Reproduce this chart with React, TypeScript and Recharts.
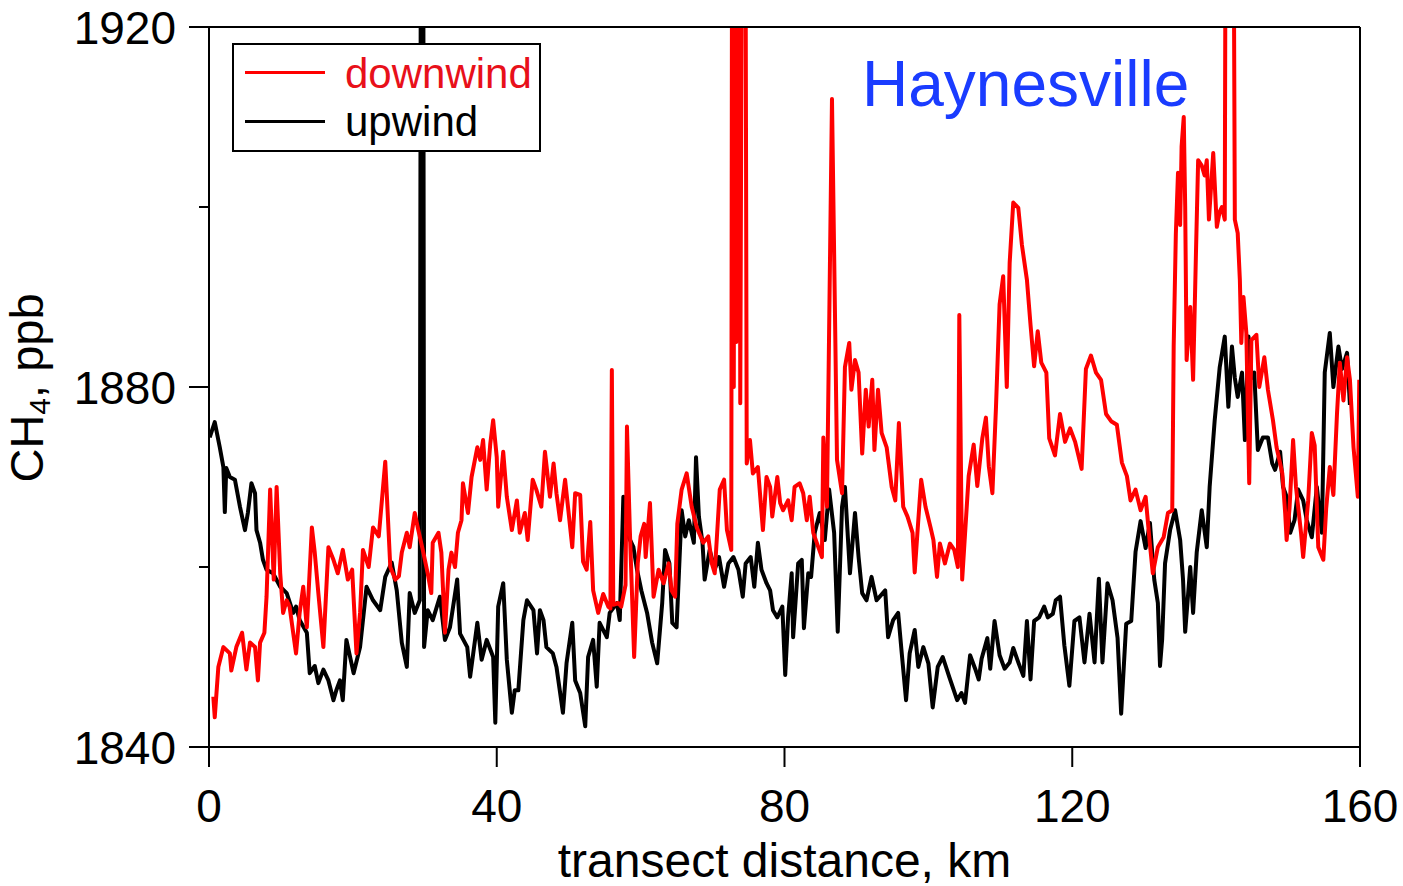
import React from 'react';
import { LineChart, Line, XAxis, YAxis, ReferenceLine, Legend } from 'recharts';

// ---- data ----
const upwindKm = [
  0.1, 0.8, 1.5, 2.0, 2.2, 2.4, 2.9, 3.6, 4.3, 5.0, 5.4, 5.9, 6.4, 6.6, 7.1, 7.5, 8.0, 8.9, 9.9, 10.8,
  11.7, 12.1, 12.6, 13.6, 14.0, 14.7, 15.2, 15.9, 16.6, 17.3, 17.7, 18.2, 18.6, 19.1, 20.1, 21.0, 21.9, 22.8, 23.8, 24.5,
  25.4, 26.1, 26.8, 27.5, 27.9, 28.6, 29.3, 29.5, 29.75, 29.9, 30.4, 31.1, 32.1, 32.8, 33.5, 34.5, 34.9, 35.9, 36.3, 37.3,
  37.9, 38.6, 39.5, 39.8, 40.2, 40.9, 41.4, 42.1, 42.5, 43.0, 43.7, 44.2, 45.1, 45.6, 46.0, 46.5, 46.9, 47.8, 48.3, 49.2,
  49.7, 50.5, 50.9, 51.6, 52.3, 52.7, 53.4, 53.9, 54.3, 55.3, 55.7, 56.7, 57.1, 57.6, 58.3, 59.0, 59.5, 60.1, 60.9, 61.6,
  62.3, 63.0, 63.4, 64.0, 64.4, 65.0, 65.3, 65.7, 66.2, 66.7, 67.4, 67.7, 68.1, 68.6, 68.9, 69.6, 70.3, 70.9, 71.6, 72.2,
  72.9, 73.6, 74.2, 74.6, 75.3, 75.8, 76.3, 76.8, 77.5, 78.0, 78.4, 79.0, 79.7, 80.1, 80.5, 81.0, 81.2, 81.9, 82.4, 82.7,
  83.3, 83.7, 84.2, 84.9, 85.6, 86.2, 86.9, 87.4, 88.0, 88.4, 89.1, 89.8, 90.3, 90.8, 91.4, 92.1, 92.8, 94.0, 94.4, 95.1,
  95.8, 96.3, 96.9, 97.4, 98.1, 98.6, 99.3, 100.0, 100.6, 101.3, 102.0, 102.9, 104.0, 104.6, 105.1, 105.8, 106.5, 107.0, 107.4, 108.2,
  108.6, 109.2, 109.9, 110.6, 111.3, 111.8, 112.5, 113.2, 113.7, 114.2, 114.7, 115.4, 116.1, 116.6, 117.3, 117.7, 118.3, 118.9, 119.6, 120.3,
  121.0, 121.7, 122.4, 123.1, 123.7, 124.2, 124.9, 125.6, 126.3, 126.8, 127.5, 128.2, 128.8, 129.5, 130.2, 130.8, 131.4, 131.9, 132.2, 132.5,
  132.9, 133.6, 134.3, 135.0, 135.4, 135.7, 136.4, 136.8, 137.3, 138.0, 138.7, 139.1, 139.8, 140.5, 141.2, 141.7, 142.2, 142.6, 143.0, 143.6,
  144.0, 144.5, 144.9, 145.3, 145.8, 146.5, 147.2, 147.8, 148.2, 148.9, 149.3, 149.8, 150.3, 150.9, 151.4, 152.1, 152.6, 153.3, 154.0, 154.7,
  155.1, 155.8, 156.3, 157.0, 157.5, 158.2, 158.6,
];
const upwindPpb = [
  1874.4, 1876.1, 1873.3, 1871.1, 1866.1, 1871.0, 1870.0, 1869.7, 1866.7, 1864.1, 1866.0, 1869.3, 1868.2, 1864.1, 1862.7, 1860.8, 1859.7, 1859.3, 1857.8, 1857.1,
  1854.9, 1855.6, 1854.1, 1852.7, 1848.2, 1849.0, 1847.1, 1848.6, 1847.4, 1845.2, 1846.3, 1847.4, 1845.2, 1851.9, 1848.2, 1851.1, 1857.8, 1856.3, 1855.2, 1858.9,
  1860.5, 1857.4, 1851.6, 1848.9, 1857.1, 1854.9, 1856.3, 1960, 1960, 1851.1, 1855.2, 1854.1, 1856.7, 1851.9, 1853.3, 1858.6, 1852.6, 1851.1, 1847.8, 1853.8,
  1849.7, 1851.9, 1850.0, 1842.7, 1855.6, 1858.2, 1849.7, 1843.8, 1846.3, 1846.3, 1854.1, 1856.3, 1855.2, 1850.4, 1855.2, 1854.1, 1851.1, 1850.4, 1848.9, 1843.8,
  1849.3, 1853.8, 1847.4, 1846.0, 1842.3, 1850.0, 1851.9, 1846.7, 1853.8, 1852.2, 1854.9, 1856.0, 1854.1, 1867.8, 1863.4, 1862.2, 1859.7, 1857.4, 1854.9, 1851.6,
  1849.3, 1856.0, 1861.9, 1860.4, 1853.8, 1853.3, 1858.9, 1866.3, 1863.4, 1865.2, 1862.7, 1872.2, 1865.6, 1862.7, 1858.6, 1861.9, 1859.7, 1861.1, 1857.8, 1860.4,
  1861.1, 1859.7, 1856.7, 1860.4, 1861.1, 1857.8, 1862.7, 1859.7, 1858.2, 1857.4, 1855.2, 1854.4, 1855.6, 1848.0, 1854.4, 1859.3, 1852.2, 1860.4, 1860.8, 1853.2,
  1859.3, 1858.9, 1863.8, 1866.0, 1863.0, 1868.6, 1863.8, 1852.8, 1866.7, 1868.9, 1859.3, 1866.0, 1861.1, 1857.1, 1856.3, 1858.9, 1856.3, 1857.4, 1852.2, 1854.1,
  1854.9, 1850.4, 1845.2, 1850.4, 1853.0, 1848.9, 1851.1, 1849.3, 1844.4, 1848.9, 1850.0, 1847.8, 1845.2, 1846.0, 1844.9, 1850.2, 1848.7, 1847.5, 1849.8, 1852.1,
  1848.7, 1854.0, 1850.2, 1848.7, 1849.4, 1851.0, 1849.4, 1847.9, 1854.0, 1847.5, 1854.0, 1854.4, 1855.6, 1854.4, 1854.8, 1856.3, 1856.7, 1851.3, 1846.8, 1854.0,
  1854.4, 1849.4, 1854.8, 1849.4, 1858.7, 1849.4, 1858.2, 1856.3, 1852.1, 1843.7, 1853.7, 1854.0, 1861.7, 1865.1, 1862.1, 1864.9, 1858.6, 1856.0, 1849.0, 1852.0,
  1860.4, 1864.1, 1866.3, 1863.0, 1858.6, 1852.8, 1860.0, 1854.9, 1861.6, 1866.3, 1862.2, 1868.9, 1876.3, 1882.2, 1885.6, 1877.8, 1884.5, 1881.0, 1878.9, 1881.6,
  1874.1, 1885.6, 1881.0, 1881.6, 1873.0, 1874.4, 1874.4, 1871.5, 1870.8, 1872.8, 1868.9, 1867.8, 1863.8, 1865.2, 1868.6, 1867.4, 1865.2, 1863.3, 1868.9, 1863.8,
  1881.6, 1886.0, 1880.0, 1884.5, 1882.0, 1883.8, 1878.0,
];

const downwindKm = [
  0.6, 0.8, 1.3, 2.0, 2.9, 3.1, 3.8, 4.6, 5.2, 5.7, 6.4, 6.8, 7.1, 7.7, 8.0, 8.5, 9.0, 9.4, 9.9, 10.3,
  10.8, 11.2, 11.7, 12.1, 12.6, 13.1, 13.6, 14.3, 14.7, 15.2, 15.9, 16.6, 17.3, 17.9, 18.6, 19.3, 19.9, 20.5, 21.0, 21.4,
  22.2, 22.8, 23.6, 24.5, 25.2, 25.9, 26.4, 26.8, 27.5, 27.9, 28.6, 29.1, 29.8, 30.4, 30.9, 31.1, 31.9, 32.3, 32.8, 33.3,
  33.7, 34.2, 34.6, 35.1, 35.3, 36.0, 36.5, 37.3, 37.7, 38.1, 38.6, 39.1, 39.5, 40.0, 40.2, 40.9, 41.4, 42.1, 42.8, 43.2,
  43.9, 44.3, 45.0, 45.5, 46.2, 46.7, 47.4, 47.9, 48.3, 48.8, 49.5, 50.5, 50.9, 51.6, 52.0, 52.5, 53.0, 53.4, 54.1, 54.8,
  55.5, 55.8, 56.0, 56.2, 56.9, 57.3, 57.9, 58.1, 58.5, 59.1, 59.6, 60.0, 60.5, 60.7, 61.3, 61.8, 62.5, 63.2, 63.9, 64.3,
  64.8, 65.1, 65.7, 66.4, 67.1, 67.8, 68.7, 69.4, 69.9, 70.3, 71.0, 71.6, 72.0, 72.6, 72.75, 72.95, 73.1, 73.3, 73.45, 73.7,
  73.85, 74.2, 74.5, 74.75, 75.2, 75.6, 76.3, 77.0, 77.5, 78.0, 78.3, 79.0, 79.4, 79.8, 80.5, 81.0, 81.4, 82.1, 82.6, 83.1,
  83.5, 84.0, 84.7, 85.2, 85.4, 85.9, 86.6, 87.3, 88.0, 88.4, 89.0, 89.3, 89.8, 90.3, 90.8, 91.3, 91.7, 92.2, 92.5, 93.0,
  93.5, 94.2, 94.9, 95.4, 95.9, 96.5, 97.1, 97.8, 98.1, 98.6, 99.0, 99.6, 100.3, 100.7, 101.2, 101.6, 102.3, 103.0, 103.6, 104.1,
  104.3, 104.7, 105.6, 106.3, 106.8, 107.5, 108.0, 108.4, 108.9, 109.4, 109.9, 110.4, 110.9, 111.3, 111.8, 112.5, 113.0, 113.7, 114.2, 114.7,
  115.2, 115.7, 116.4, 116.8, 117.6, 118.3, 119.0, 119.7, 120.4, 121.3, 121.9, 122.6, 123.3, 124.0, 124.7, 125.4, 126.2, 126.9, 127.6, 128.1,
  128.8, 129.5, 130.2, 130.8, 131.2, 131.9, 132.7, 133.3, 133.9, 134.1, 134.4, 134.7, 135.0, 135.2, 135.5, 135.7, 135.9, 136.4, 136.8, 137.2,
  137.5, 138.0, 138.4, 138.7, 139.0, 139.6, 140.1, 140.5, 140.8, 141.2, 141.4, 142.3, 142.6, 143.0, 143.3, 143.5, 143.8, 144.2, 144.6, 144.9,
  145.6, 146.0, 146.7, 147.2, 147.9, 148.4, 149.2, 149.6, 149.8, 150.2, 150.7, 151.1, 151.8, 152.1, 152.8, 153.3, 153.7, 154.2, 154.9, 155.3,
  155.8, 156.3, 156.8, 157.2, 157.7, 158.2, 158.6, 159.1, 159.7, 159.9,
];
const downwindPpb = [
  1845.6, 1843.3, 1848.9, 1851.1, 1850.4, 1848.5, 1851.1, 1852.7, 1848.6, 1851.6, 1851.1, 1847.4, 1851.6, 1852.7, 1856.7, 1868.6, 1858.6, 1868.9, 1859.3, 1854.9,
  1856.3, 1855.6, 1852.7, 1850.4, 1854.9, 1857.8, 1853.3, 1864.4, 1861.6, 1857.1, 1851.1, 1862.2, 1860.8, 1859.3, 1861.9, 1858.6, 1859.7, 1850.4, 1854.9, 1861.9,
  1860.0, 1864.4, 1863.4, 1871.7, 1860.0, 1858.6, 1859.0, 1861.6, 1863.8, 1862.2, 1866.0, 1864.1, 1861.6, 1859.3, 1857.1, 1862.7, 1863.8, 1861.6, 1852.7, 1859.7,
  1861.6, 1860.0, 1863.8, 1865.2, 1869.3, 1866.0, 1870.0, 1873.3, 1871.9, 1874.1, 1868.6, 1873.7, 1876.3, 1872.2, 1866.7, 1872.8, 1867.8, 1864.1, 1867.4, 1863.8,
  1866.0, 1863.0, 1869.7, 1868.6, 1866.7, 1872.8, 1867.8, 1871.5, 1868.2, 1865.2, 1869.7, 1862.2, 1868.2, 1868.0, 1860.6, 1859.7, 1865.0, 1857.4, 1854.9, 1857.0,
  1855.6, 1855.4, 1881.9, 1855.8, 1856.0, 1855.6, 1858.0, 1875.6, 1864.1, 1850.0, 1860.4, 1863.4, 1864.8, 1861.1, 1867.1, 1856.7, 1859.7, 1858.2, 1860.4, 1857.4,
  1856.7, 1864.8, 1868.6, 1870.4, 1866.7, 1864.4, 1862.7, 1863.4, 1860.4, 1859.3, 1868.6, 1869.7, 1864.1, 1861.9, 1960, 1880.0, 1960, 1885.0, 1960, 1960,
  1878.2, 1960, 1960, 1871.5, 1874.1, 1870.4, 1871.1, 1864.1, 1870.0, 1868.9, 1865.6, 1870.0, 1867.1, 1866.3, 1867.4, 1865.2, 1868.9, 1869.3, 1868.2, 1865.2,
  1867.8, 1863.8, 1862.2, 1861.1, 1874.4, 1866.7, 1912.0, 1871.9, 1868.2, 1882.2, 1884.9, 1879.7, 1883.0, 1881.6, 1872.6, 1879.7, 1875.6, 1880.8, 1873.0, 1879.7,
  1874.9, 1873.3, 1868.9, 1867.4, 1876.0, 1866.7, 1865.6, 1863.8, 1859.4, 1865.2, 1869.7, 1866.7, 1864.4, 1863.0, 1858.9, 1862.6, 1860.4, 1862.6, 1861.9, 1860.0,
  1888.0, 1858.6, 1870.1, 1873.6, 1869.0, 1874.3, 1876.6, 1871.2, 1868.2, 1877.8, 1889.2, 1892.3, 1880.0, 1893.8, 1900.5, 1899.9, 1895.8, 1891.9, 1886.9, 1882.3,
  1886.2, 1882.7, 1881.6, 1874.3, 1872.4, 1877.0, 1873.9, 1875.4, 1873.9, 1870.9, 1882.0, 1883.5, 1881.6, 1880.8, 1877.0, 1876.2, 1875.8, 1871.6, 1870.1, 1867.4,
  1868.6, 1866.3, 1867.8, 1862.5, 1859.3, 1862.2, 1863.3, 1866.0, 1866.3, 1884.5, 1897.0, 1903.8, 1898.0, 1906.7, 1910.0, 1900.0, 1883.0, 1888.9, 1880.8, 1895.0,
  1905.2, 1904.6, 1903.5, 1905.2, 1898.6, 1906.0, 1897.8, 1899.5, 1900.0, 1898.6, 1960, 1960, 1898.6, 1897.1, 1891.9, 1884.9, 1890.0, 1886.0, 1869.3, 1885.2,
  1885.8, 1880.0, 1883.3, 1879.7, 1876.3, 1873.3, 1870.4, 1866.0, 1863.0, 1866.5, 1874.1, 1868.9, 1863.8, 1861.1, 1867.4, 1874.9, 1873.5, 1862.2, 1860.8, 1866.5,
  1871.1, 1868.0, 1877.0, 1882.7, 1878.5, 1883.3, 1880.8, 1873.3, 1867.8, 1880.8,
];

const xTicks = [0, 40, 80, 120, 160];
const yTicks = [1840, 1860, 1880, 1900, 1920];
const yLabeledTicks = [1840, 1880, 1920];
const seriesNames = ['downwind', 'upwind'];
const chartTitle = 'Haynesville';
const xTitle = 'transect distance, km';

const upwindData = upwindKm.map((km, i) => ({ km, ppb: upwindPpb[i] }));
const downwindData = downwindKm.map((km, i) => ({ km, ppb: downwindPpb[i] }));

const FONT = '"Liberation Sans", Arial, Helvetica, sans-serif';
const RED = '#ff0000';
const BLACK = '#000000';

function YTick(props: any) {
  const { x, y, payload } = props;
  const major = yLabeledTicks.includes(payload.value);
  const len = major ? 20 : 10;
  return (
    <g>
      <line x1={x} x2={x - len} y1={y} y2={y} stroke="#000" strokeWidth={2} />
      {major && (
        <text x={x - 33} y={y + 16.5} textAnchor="end" fontSize={46} fontFamily={FONT} fill="#000">
          {payload.value}
        </text>
      )}
    </g>
  );
}

function XTick(props: any) {
  const { x, y, payload } = props;
  return (
    <g>
      <line x1={x} x2={x} y1={y} y2={y + 20} stroke="#000" strokeWidth={2} />
      <text x={x} y={y + 75} textAnchor="middle" fontSize={46} fontFamily={FONT} fill="#000">
        {payload.value}
      </text>
    </g>
  );
}

function YTitle(props: any) {
  const vb = props.viewBox || { x: 0, y: 27, width: 209, height: 720 };
  const cx = vb.x + 43;
  const cy = vb.y + vb.height / 2 + 1;
  return (
    <text x={cx} y={cy} transform={`rotate(-90, ${cx}, ${cy})`} textAnchor="middle" fontSize={47} fontFamily={FONT} fill="#000">
      CH<tspan fontSize={30} dy={7}>4</tspan>
      <tspan dy={-7}>, ppb</tspan>
    </text>
  );
}

function XTitle(props: any) {
  const vb = props.viewBox || { x: 209, y: 747, width: 1151, height: 139 };
  return (
    <text x={vb.x + vb.width / 2} y={vb.y + 130} textAnchor="middle" fontSize={48} fontFamily={FONT} fill="#000">
      {xTitle}
    </text>
  );
}

function LegendBox() {
  const rows = [
    { name: seriesNames[0], color: RED, text: '#e8101a', top: 8.4, lineTop: 26 },
    { name: seriesNames[1], color: BLACK, text: '#000', top: 56.4, lineTop: 75 },
  ];
  return (
    <div
      style={{
        boxSizing: 'border-box',
        width: 309,
        height: 109,
        border: '2px solid #000',
        background: '#fff',
        position: 'relative',
        fontFamily: FONT,
      }}
    >
      {rows.map((r) => (
        <React.Fragment key={r.name}>
          <div style={{ position: 'absolute', left: 11, top: r.lineTop, width: 80, height: 3, background: r.color }} />
          <div
            style={{
              position: 'absolute',
              left: 111,
              top: r.top,
              fontSize: 42,
              lineHeight: '42px',
              color: r.text,
              whiteSpace: 'nowrap',
            }}
          >
            {r.name}
          </div>
        </React.Fragment>
      ))}
    </div>
  );
}

export default function App() {
  return (
    <div style={{ position: 'absolute', left: 0, top: 0, width: 1403, height: 886, background: '#fff' }}>
      <LineChart width={1403} height={886} margin={{ top: 27, right: 43, bottom: 0, left: 0 }}>
        <XAxis
          type="number"
          dataKey="km"
          domain={[0, 160]}
          ticks={xTicks}
          interval={0}
          allowDataOverflow
          height={139}
          tickSize={0}
          tickMargin={0}
          tickLine={false}
          axisLine={{ stroke: '#000', strokeWidth: 2 }}
          tick={<XTick />}
          label={<XTitle />}
        />
        <YAxis
          type="number"
          dataKey="ppb"
          domain={[1840, 1920]}
          ticks={yTicks}
          interval={0}
          allowDataOverflow
          width={209}
          tickSize={0}
          tickMargin={0}
          tickLine={false}
          axisLine={{ stroke: '#000', strokeWidth: 2 }}
          tick={<YTick />}
          label={<YTitle />}
        />
        <Line
          data={upwindData}
          dataKey="ppb"
          name={seriesNames[1]}
          type="linear"
          stroke={BLACK}
          strokeWidth={4}
          strokeLinejoin="round"
          dot={false}
          activeDot={false}
          isAnimationActive={false}
        />
        <Line
          data={downwindData}
          dataKey="ppb"
          name={seriesNames[0]}
          type="linear"
          stroke={RED}
          strokeWidth={4}
          strokeLinejoin="round"
          dot={false}
          activeDot={false}
          isAnimationActive={false}
        />
        <ReferenceLine y={1920} stroke="#000" strokeWidth={2} />
        <ReferenceLine x={160} stroke="#000" strokeWidth={2} />
        <Legend
          layout="vertical"
          align="center"
          verticalAlign="middle"
          content={<LegendBox />}
          wrapperStyle={{ left: 232, top: 43, width: 309, height: 109 }}
        />
      </LineChart>
      <div
        style={{
          position: 'absolute',
          left: 862,
          top: 52,
          fontFamily: FONT,
          fontSize: 64,
          lineHeight: '64px',
          color: '#1a3cff',
          whiteSpace: 'nowrap',
        }}
      >
        {chartTitle}
      </div>
    </div>
  );
}
